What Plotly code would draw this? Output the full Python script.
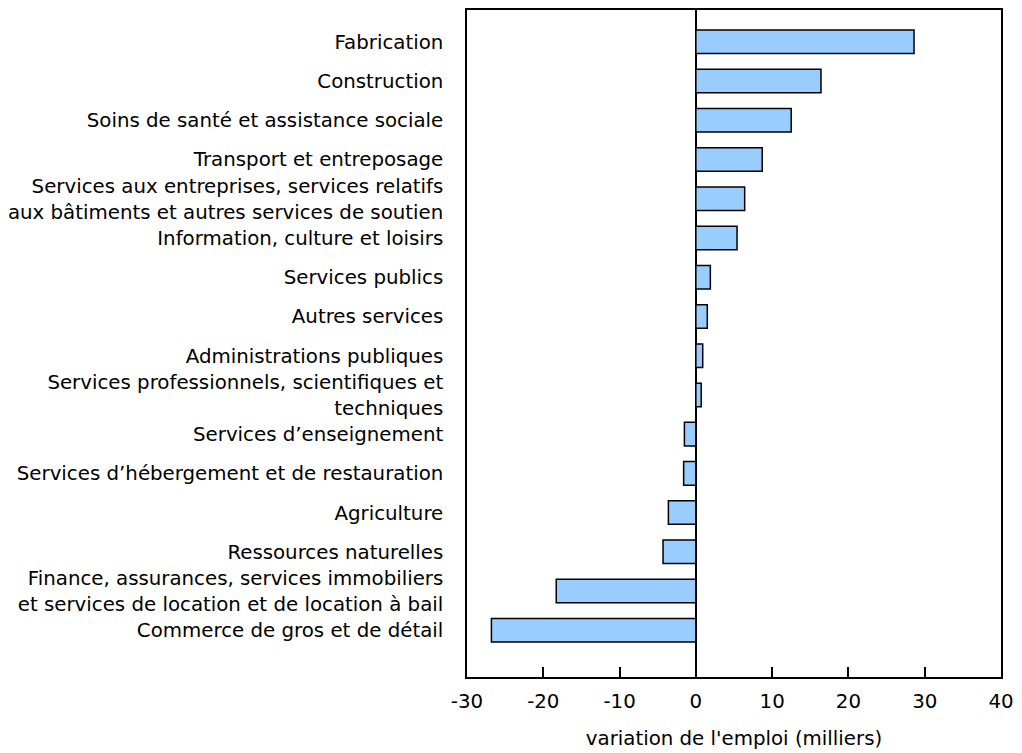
import plotly.graph_objects as go

categories = [
    "Fabrication",
    "Construction",
    "Soins de santé et assistance sociale",
    "Transport et entreposage",
    "Services aux entreprises, services relatifs<br>aux bâtiments et autres services de soutien",
    "Information, culture et loisirs",
    "Services publics",
    "Autres services",
    "Administrations publiques",
    "Services professionnels, scientifiques et<br>techniques",
    "Services d’enseignement",
    "Services d’hébergement et de restauration",
    "Agriculture",
    "Ressources naturelles",
    "Finance, assurances, services immobiliers<br>et services de location et de location à bail",
    "Commerce de gros et de détail",
]
values = [28.6, 16.4, 12.5, 8.7, 6.4, 5.4, 1.9, 1.5, 0.9, 0.7, -1.5, -1.6, -3.6, -4.3, -18.3, -26.8]

x_ticks = [-30, -20, -10, 0, 10, 20, 30, 40]

cats_rev = categories[::-1]
vals_rev = values[::-1]

fig = go.Figure(go.Bar(
    x=vals_rev, y=cats_rev, orientation="h",
    marker=dict(color="#99CCFF", line=dict(color="#000000", width=1.5)),
    width=0.6,
))

font_family = "DejaVu Sans, Verdana, sans-serif"
fs = 19.8
# the page body has an 8px margin, so the figure is drawn 8px down/right
fig.update_layout(
    width=1014, height=745,
    margin=dict(l=457, r=21, t=0, b=76),
    paper_bgcolor="white", plot_bgcolor="white",
    showlegend=False,
    font=dict(family=font_family, size=fs, color="#000000"),
    xaxis=dict(
        range=[-30, 40], tickvals=x_ticks, ticktext=[str(v) for v in x_ticks],
        ticks="inside", ticklen=10, tickwidth=1.5, tickcolor="#000",
        showline=True, linecolor="#000", linewidth=1.5, mirror=True,
        showgrid=False, zeroline=True, zerolinecolor="#000", zerolinewidth=1.5,
        title=dict(text="variation de l'emploi (milliers)", standoff=20, font=dict(size=fs)),
        tickfont=dict(size=fs), ticklabelstandoff=5,
    ),
    yaxis=dict(
        range=[-1.19, 15.81], showline=True, linecolor="#000", linewidth=1.5, mirror=True,
        ticks="", showgrid=False, tickfont=dict(size=fs), ticklabelstandoff=18,
        categoryorder="array", categoryarray=cats_rev,
    ),
)

fig.write_html(
    "out.html",
    config={"displayModeBar": False},
    post_script="document.body.style.overflow='hidden';",
)
